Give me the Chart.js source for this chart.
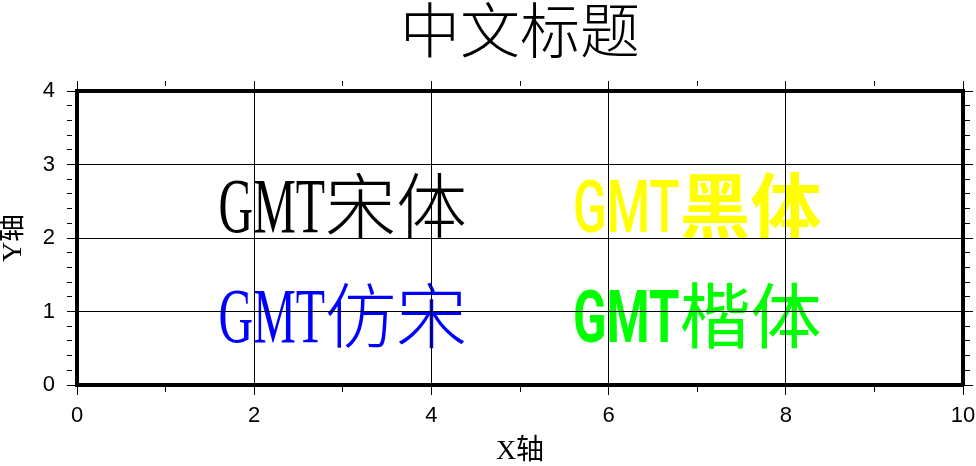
<!DOCTYPE html>
<html>
<head>
<meta charset="utf-8">
<script src="https://cdn.jsdelivr.net/npm/chart.js@4/dist/chart.umd.min.js"></script>
<style>
  html, body { margin: 0; padding: 0; background: #ffffff; }
  #wrap { width: 976px; height: 466px; }
</style>
</head>
<body>
<div id="wrap"><canvas id="c" width="976" height="466"></canvas></div>
<script>
// ---- data ----
const chartTitle = '中文标题';
const xAxisTitle = 'X轴';
const yAxisTitle = 'Y轴';
const xRange = [0, 10];
const yRange = [0, 4];
const labelTexts = ['GMT宋体', 'GMT黑体', 'GMT仿宋', 'GMT楷体'];
const labelX = [3, 7, 3, 7];
const labelY = [2.5, 2.5, 1, 1];

// ---- styles ----
const textStyles = [
  { color: '#000000', latinFamily: '"Liberation Serif"', latinWeight: 'normal', latinSize: 78, cjkWeight: '300' },
  { color: '#ffff00', latinFamily: 'Roboto', latinWeight: '500', latinSize: 72, cjkWeight: 'bold' },
  { color: '#0000ff', latinFamily: '"Liberation Serif"', latinWeight: 'normal', latinSize: 78, cjkWeight: '300' },
  { color: '#00ff00', latinFamily: 'Roboto', latinWeight: '700', latinSize: 72, cjkWeight: 'normal' }
];
const CJK_SIZE = 71;
const CJK_FAMILY = '"Noto Sans CJK SC"';

const isWhole = (v, step) => Math.abs(v / step - Math.round(v / step)) < 1e-6;

const textPlugin = {
  id: 'gmtText',
  beforeDraw(chart) {
    const ctx = chart.ctx;
    ctx.save();
    ctx.fillStyle = '#ffffff';
    ctx.fillRect(0, 0, chart.width, chart.height);
    const xs = chart.scales.x, ys = chart.scales.y;
    labelTexts.forEach((t, i) => {
      const st = textStyles[i];
      const m = t.match(/^([A-Za-z]*)(.*)$/);
      const latin = m[1], cjk = m[2];
      const latinFont = `${st.latinWeight} ${st.latinSize}px ${st.latinFamily}`;
      const cjkFont = `${st.cjkWeight} ${CJK_SIZE}px ${CJK_FAMILY}`;
      ctx.font = latinFont;
      const lw = ctx.measureText(latin).width;
      const targetLw = latin.length * CJK_SIZE * 0.5;
      ctx.font = cjkFont;
      const cw = ctx.measureText(cjk).width;
      const total = targetLw + cw;
      const px = xs.getPixelForValue(labelX[i]);
      const py = ys.getPixelForValue(labelY[i]) + CJK_SIZE * 0.43;
      const x0 = px - total / 2;
      ctx.fillStyle = st.color;
      ctx.textBaseline = 'alphabetic';
      ctx.textAlign = 'left';
      ctx.save();
      ctx.translate(x0, py);
      ctx.scale(targetLw / lw, 1);
      ctx.font = latinFont;
      ctx.fillText(latin, 0, 0);
      ctx.restore();
      ctx.font = cjkFont;
      ctx.fillText(cjk, x0 + targetLw, py);
    });
    ctx.restore();
  }
};

const tickFont = { family: '"Liberation Sans", Arial, sans-serif', size: 22 };
const axisTitleFont = { family: '"Liberation Serif", "Noto Sans CJK SC"', size: 28, lineHeight: 1 };

function majorMinorGrid(step) {
  return {
    color: (c) => isWhole(c.tick.value, step) ? '#000000' : 'rgba(0,0,0,0)',
    lineWidth: 1,
    tickColor: '#000000',
    tickWidth: 1,
    tickLength: 10,
    tickBorderDash: (c) => isWhole(c.tick.value, step) ? [] : [5, 40]
  };
}
function frameGrid(step) {
  return {
    drawOnChartArea: false,
    color: '#000000',
    lineWidth: 1,
    tickColor: '#000000',
    tickWidth: 1,
    tickLength: 10,
    tickBorderDash: (c) => isWhole(c.tick.value, step) ? [] : [5, 40]
  };
}
const border = { display: true, color: '#000000', width: 4 };
const noPad = (s) => { s.paddingLeft = 0; s.paddingRight = 0; s.paddingTop = 0; s.paddingBottom = 0; };

new Chart(document.getElementById('c'), {
  type: 'scatter',
  data: {
    datasets: [{
      data: labelX.map((x, i) => ({ x: x, y: labelY[i] })),
      pointRadius: 0,
      showLine: false
    }]
  },
  options: {
    responsive: false,
    devicePixelRatio: 1,
    animation: false,
    layout: { padding: 0 },
    plugins: {
      legend: { display: false },
      tooltip: { enabled: false },
      title: {
        display: true,
        text: chartTitle,
        fullSize: false,
        color: '#000000',
        font: { family: CJK_FAMILY, size: 60, weight: '300', lineHeight: 1 },
        padding: { top: 0, bottom: 21 }
      }
    },
    scales: {
      x: {
        type: 'linear', position: 'bottom', min: xRange[0], max: xRange[1],
        grid: majorMinorGrid(2),
        border: border,
        ticks: {
          stepSize: 1, autoSkip: false, maxRotation: 0, color: '#000000', font: tickFont, padding: 8,
          callback: (v) => isWhole(v, 2) ? String(Math.round(v)) : ''
        },
        title: { display: true, text: xAxisTitle, color: '#000000', font: axisTitleFont, padding: { top: 0, bottom: 0 } },
        afterFit: (s) => { s.height = 81; noPad(s); }
      },
      xTop: {
        type: 'linear', axis: 'x', position: 'top', min: xRange[0], max: xRange[1],
        grid: frameGrid(2),
        border: border,
        ticks: { stepSize: 1, display: false },
        afterFit: (s) => { s.height = 10; noPad(s); }
      },
      y: {
        type: 'linear', position: 'left', min: yRange[0], max: yRange[1],
        grid: majorMinorGrid(1),
        border: border,
        ticks: {
          stepSize: 0.2, autoSkip: false, color: '#000000', font: tickFont, padding: 12,
          callback: (v) => isWhole(v, 1) ? String(Math.round(v)) : ''
        },
        title: { display: true, text: yAxisTitle, color: '#000000', font: axisTitleFont, padding: { top: 0, bottom: 0 } },
        afterFit: (s) => { s.width = 77; noPad(s); }
      },
      yRight: {
        type: 'linear', axis: 'y', position: 'right', min: yRange[0], max: yRange[1],
        grid: frameGrid(1),
        border: border,
        ticks: { stepSize: 0.2, display: false },
        afterFit: (s) => { s.width = 13; noPad(s); }
      }
    }
  },
  plugins: [textPlugin]
});
</script>
</body>
</html>
